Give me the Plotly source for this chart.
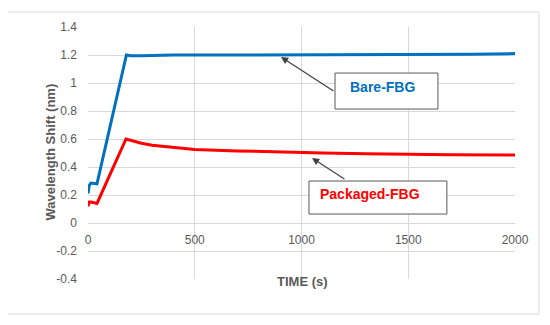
import plotly.graph_objects as go

# ---- data ----
t_bare = [0, 6, 14, 42, 180, 200, 250, 400, 600, 800, 1000, 1200, 1400, 1600, 1800, 2000]
bare = [0.21, 0.27, 0.285, 0.28, 1.2, 1.195, 1.195, 1.2, 1.2, 1.2, 1.2, 1.2, 1.205, 1.205, 1.205, 1.21]

t_pack = [0, 6, 14, 42, 178, 200, 250, 300, 400, 500, 700, 900, 1100, 1300, 1500, 1700, 2000]
pack = [0.12, 0.15, 0.15, 0.14, 0.6, 0.59, 0.57, 0.555, 0.54, 0.525, 0.515, 0.505, 0.5, 0.495, 0.49, 0.488, 0.485]

x_ticks = [0, 500, 1000, 1500, 2000]
x_labels = ["0", "500", "1000", "1500", "2000"]
y_ticks = [-0.4, -0.2, 0, 0.2, 0.4, 0.6, 0.8, 1.0, 1.2, 1.4]
y_labels = ["-0.4", "-0.2", "0", "0.2", "0.4", "0.6", "0.8", "1", "1.2", "1.4"]

BLUE = "#0070C0"
RED = "#FF0000"
GREY = "#595959"
GRID = "#D9D9D9"
FONT = "Liberation Sans, Arial, sans-serif"

# plot area in page pixels (page body adds an 8px offset)
OFF = 8
L, R, T, B = 88, 515, 27, 279
PW, PH = R - L, B - T

def px_x(px):
    return (px - L) / PW

def px_y(py):
    return (B - py) / PH

fig = go.Figure()
fig.add_trace(go.Scatter(x=t_bare, y=bare, mode="lines", line=dict(color=BLUE, width=3), name="Bare-FBG"))
fig.add_trace(go.Scatter(x=t_pack, y=pack, mode="lines", line=dict(color=RED, width=3), name="Packaged-FBG"))

fig.update_layout(
    width=550 - OFF, height=325 - OFF,
    margin=dict(l=L - OFF, r=550 - R, t=T - OFF, b=325 - B, autoexpand=False),
    paper_bgcolor="white", plot_bgcolor="white",
    showlegend=False,
    font=dict(family=FONT, color=GREY, size=12),
    xaxis=dict(
        range=[0, 2000], tickvals=x_ticks, ticktext=x_labels,
        showgrid=True, gridcolor=GRID, gridwidth=1, zeroline=False, showline=False,
        anchor="free", position=0.4 / 1.8, ticks="", ticklabelstandoff=8,
        tickfont=dict(family=FONT, size=12, color=GREY),
    ),
    yaxis=dict(
        range=[-0.4, 1.4], tickvals=y_ticks, ticktext=y_labels,
        showgrid=True, gridcolor=GRID, gridwidth=1, zeroline=True, zerolinecolor=GRID,
        zerolinewidth=1, showline=False, ticks="", ticklabelstandoff=10,
        tickfont=dict(family=FONT, size=12, color=GREY),
    ),
)

# outer chart border
fig.add_shape(type="rect", xref="paper", yref="paper",
              x0=px_x(7), x1=px_x(539), y0=px_y(314), y1=px_y(12),
              line=dict(color=GRID, width=1), fillcolor="rgba(0,0,0,0)", layer="below")

# label boxes
fig.add_shape(type="rect", xref="x", yref="y", x0=1157, x1=1639, y0=0.814, y1=1.071,
              line=dict(color="#595959", width=1), fillcolor="white", layer="above")
fig.add_shape(type="rect", xref="x", yref="y", x0=1035, x1=1681, y0=0.064, y1=0.30,
              line=dict(color="#595959", width=1), fillcolor="white", layer="above")

fig.add_annotation(x=1379, y=0.971, xref="x", yref="y", text="<b>Bare-FBG</b>", showarrow=False,
                   font=dict(family=FONT, size=14, color=BLUE))
fig.add_annotation(x=1321, y=0.207, xref="x", yref="y", text="<b>Packaged-FBG</b>", showarrow=False,
                   font=dict(family=FONT, size=14, color=RED))

# arrows
fig.add_annotation(x=904, y=1.186, ax=1157, ay=0.936, xref="x", yref="y", axref="x", ayref="y",
                   text="", showarrow=True, arrowhead=2, arrowsize=1.2, arrowwidth=1.2, arrowcolor="#404040")
fig.add_annotation(x=1049, y=0.464, ax=1208, ay=0.307, xref="x", yref="y", axref="x", ayref="y",
                   text="", showarrow=True, arrowhead=2, arrowsize=1.2, arrowwidth=1.2, arrowcolor="#404040")

# axis titles
fig.add_annotation(x=px_x(40), y=px_y(152), xref="paper", yref="paper", text="<b>Wavelength Shift (nm)</b>",
                   showarrow=False, textangle=-90, font=dict(family=FONT, size=13, color=GREY))
fig.add_annotation(x=px_x(302), y=px_y(291), xref="paper", yref="paper",
                   text="<b>TIME (s)</b>", showarrow=False, font=dict(family=FONT, size=13, color=GREY))

fig.write_html("out.html")
